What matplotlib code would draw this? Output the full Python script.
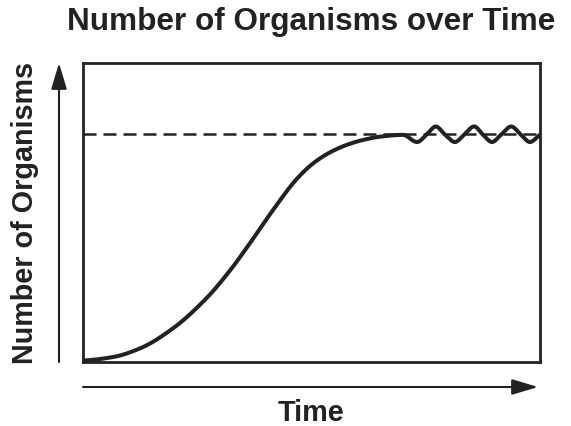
import numpy as np
import matplotlib
matplotlib.use("Agg")
import matplotlib.pyplot as plt
from matplotlib.patches import FancyArrowPatch

plt.rcParams['font.family'] = ['Liberation Sans', 'DejaVu Sans']

# --- data (time and population in % of axis) ---
growth_time = [0, 6.6, 12.5, 19.7, 27.1, 32.2, 36.5, 41.6, 46.8, 50.3,
               54.0, 57.8, 61.3, 65.0, 70.0]
growth_count = [0.3, 1.5, 4.4, 11.1, 21.3, 30.5, 39.5, 50.7, 61.1, 66.2,
                69.9, 72.5, 74.1, 75.2, 75.8]
osc_time = [73.1, 75.2, 77.2, 79.2, 81.4, 83.4, 85.6, 87.5, 89.5, 91.5, 93.7,
            95.8, 97.8, 100.0]
osc_count = [73.4, 75.9, 78.6, 75.9, 73.4, 75.9, 78.6, 75.9, 73.4, 75.9, 78.6,
             75.9, 73.4, 75.9]
carrying_capacity = 76.0

title = "Number of Organisms over Time"
x_label = "Time"
y_label = "Number of Organisms"

ink = "#222222"


def pchip(xs, ys, n=25):
    x = np.asarray(xs, float)
    y = np.asarray(ys, float)
    h = np.diff(x)
    delta = np.diff(y) / h
    d = np.zeros_like(y)
    for k in range(1, len(x) - 1):
        if delta[k - 1] * delta[k] > 0:
            w1 = 2 * h[k] + h[k - 1]
            w2 = h[k] + 2 * h[k - 1]
            d[k] = (w1 + w2) / (w1 / delta[k - 1] + w2 / delta[k])
    d[0] = delta[0] * 0.5
    d[-1] = delta[-1]
    outx, outy = [], []
    t = np.linspace(0, 1, n, endpoint=False)
    for k in range(len(x) - 1):
        h00 = 2 * t**3 - 3 * t**2 + 1
        h10 = t**3 - 2 * t**2 + t
        h01 = -2 * t**3 + 3 * t**2
        h11 = t**3 - t**2
        outx.extend(x[k] + t * h[k])
        outy.extend(h00 * y[k] + h10 * h[k] * d[k] + h01 * y[k + 1] + h11 * h[k] * d[k + 1])
    outx.append(x[-1])
    outy.append(y[-1])
    return np.array(outx), np.array(outy)


fig = plt.figure(figsize=(5.71, 4.27), dpi=100)
W, H = 571, 427
ax = fig.add_axes([83 / W, (H - 362.5) / H, 457 / W, 299 / H])
ax.set_xlim(0, 100)
ax.set_ylim(0, 100)
ax.set_xticks([])
ax.set_yticks([])
for s in ax.spines.values():
    s.set_linewidth(2.0)
    s.set_color(ink)

ax.axhline(carrying_capacity, color=ink, lw=1.8, ls=(0, (5.2, 2.8)), zorder=2)

cx, cy = pchip(growth_time + osc_time, growth_count + osc_count)
ax.plot(cx, cy, color=ink, lw=2.9, solid_capstyle='butt', zorder=3, clip_on=False)


def arrow(p0, p1):
    a = FancyArrowPatch((p0[0] / W, 1 - p0[1] / H), (p1[0] / W, 1 - p1[1] / H),
                        transform=fig.transFigure,
                        arrowstyle='-|>,head_length=0.8,head_width=0.24',
                        mutation_scale=20, lw=1.5, color=ink, shrinkA=0, shrinkB=0)
    fig.patches.append(a)


arrow((59, 363), (59, 64))
arrow((83, 388), (538, 388))

fig.text(311 / W, 1 - 22 / H, title, ha='center', va='center', fontsize=22.7,
         fontweight='bold', color=ink)
fig.text(311 / W, 1 - 413 / H, x_label, ha='center', va='center', fontsize=20.8,
         fontweight='bold', color=ink)
fig.text(25 / W, 1 - 213.5 / H, y_label, ha='center', va='center', fontsize=20.7,
         fontweight='bold', color=ink, rotation=90)

fig.savefig("out.png", dpi=100)
